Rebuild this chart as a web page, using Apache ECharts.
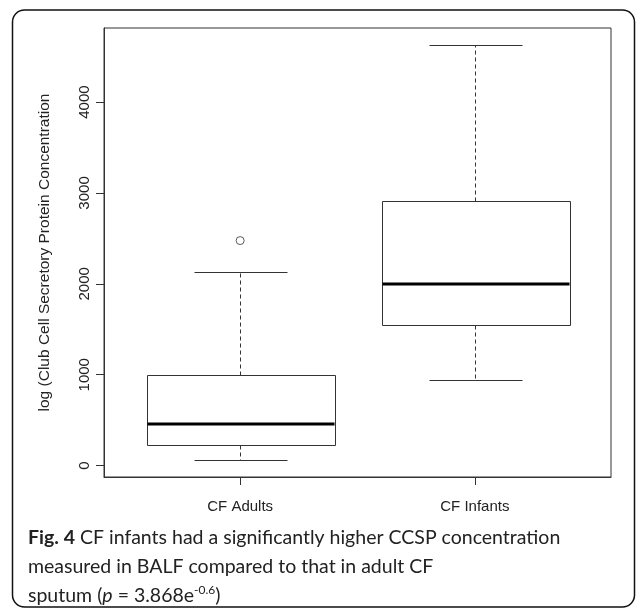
<!DOCTYPE html>
<html>
<head>
<meta charset="utf-8">
<script src="https://cdn.jsdelivr.net/npm/echarts@6/dist/echarts.min.js"></script>
<style>
html,body{margin:0;padding:0;background:#fff;}
#chart{width:637px;height:609px;}
</style>
</head>
<body>
<div id="chart"></div>
<script>
// ---- data ----
const categories = ['CF Adults', 'CF Infants'];
const positions = [1, 2];
const lowerWhisker = [58, 947];
const q1 = [230, 1551];
const median = [457, 1998];
const q3 = [1002, 2912];
const upperWhisker = [2125, 4632];
const outlierPos = [1];
const outlierVal = [2476];
const yTicks = [0, 1000, 2000, 3000, 4000];
const yTitle = 'log (Club Cell Secretory Protein Concentration';

const boxData = positions.map((p, i) => [p, lowerWhisker[i], q1[i], median[i], q3[i], upperWhisker[i]]);
const outlierData = outlierPos.map((p, i) => [p, outlierVal[i]]);

// R-style axis extents (4% padding)
const allVals = lowerWhisker.concat(upperWhisker, outlierVal);
const dMin = Math.min.apply(null, allVals), dMax = Math.max.apply(null, allVals);
const pad = (dMax - dMin) * 0.04;

const FONT = '"Liberation Sans", Arial, sans-serif';
const CAP = 'Lato, sans-serif';
const chart = echarts.init(document.getElementById('chart'), null, {renderer: 'canvas'});

function renderBox(params, api) {
  const x = api.value(0);
  const lo = api.value(1), a = api.value(2), m = api.value(3), b = api.value(4), hi = api.value(5);
  const pLo = api.coord([x, lo]), pA = api.coord([x, a]), pM = api.coord([x, m]), pB = api.coord([x, b]), pHi = api.coord([x, hi]);
  const boxW = api.size([0.8, 0])[0];
  const capW = api.size([0.4, 0])[0];
  const cx = Math.round(pM[0]) + 0.5;
  const stroke = '#333';
  const lineStyle = {stroke: stroke, lineWidth: 1, fill: null};
  const dashStyle = {stroke: stroke, lineWidth: 1, lineDash: [4, 3], fill: null};
  const r = v => Math.round(v) + 0.5;
  return {
    type: 'group',
    children: [
      {type: 'line', shape: {x1: cx, y1: r(pB[1]), x2: cx, y2: r(pHi[1])}, style: dashStyle},
      {type: 'line', shape: {x1: cx, y1: r(pA[1]), x2: cx, y2: r(pLo[1])}, style: dashStyle},
      {type: 'line', shape: {x1: r(cx - capW / 2), y1: r(pHi[1]), x2: r(cx + capW / 2), y2: r(pHi[1])}, style: lineStyle},
      {type: 'line', shape: {x1: r(cx - capW / 2), y1: r(pLo[1]), x2: r(cx + capW / 2), y2: r(pLo[1])}, style: lineStyle},
      {type: 'rect', shape: {x: r(cx - boxW / 2), y: r(pB[1]), width: Math.round(boxW), height: Math.round(pA[1] - pB[1])},
        style: {stroke: stroke, lineWidth: 1, fill: '#fff'}},
      {type: 'line', shape: {x1: r(cx - boxW / 2), y1: Math.round(pM[1]), x2: r(cx + boxW / 2), y2: Math.round(pM[1])},
        style: {stroke: '#000', lineWidth: 3}}
    ]
  };
}

const option = {
  backgroundColor: '#fff',
  animation: false,
  grid: {left: 104, right: 26, top: 28, bottom: 132, show: true, borderColor: '#333', borderWidth: 1, backgroundColor: 'transparent'},
  xAxis: {
    type: 'value', min: 0.42, max: 2.58,
    splitLine: {show: false},
    axisLine: {show: true, onZero: false, lineStyle: {color: '#333', width: 1}},
    axisTick: {show: true, customValues: positions, length: 8, inside: false, lineStyle: {color: '#333'}},
    axisLabel: {show: true, customValues: positions, margin: 22, color: '#222', fontFamily: FONT, fontSize: 15,
      formatter: v => categories[positions.indexOf(v)] || ''}
  },
  yAxis: {
    type: 'value', min: dMin - pad, max: dMax + pad,
    splitLine: {show: false},
    axisLine: {show: true, onZero: false, lineStyle: {color: '#333', width: 1}},
    axisTick: {show: true, customValues: yTicks, length: 8, lineStyle: {color: '#333'}},
    axisLabel: {show: true, customValues: yTicks, rotate: 90, margin: 12, color: '#222', fontFamily: FONT, fontSize: 15,
      formatter: v => String(v)},
    name: yTitle, nameLocation: 'middle', nameRotate: 90, nameGap: 51,
    nameTextStyle: {color: '#222', fontFamily: FONT, fontSize: 15.5}
  },
  series: [
    {type: 'custom', renderItem: renderBox, data: boxData, encode: {x: 0, y: [1, 2, 3, 4, 5]}, silent: true},
    {type: 'scatter', data: outlierData, symbol: 'circle', symbolSize: 8,
      itemStyle: {color: '#fff', borderColor: '#333', borderWidth: 1}, silent: true}
  ],
  graphic: [
    {type: 'rect', shape: {x: 12.5, y: 10, width: 622, height: 597, r: 12}, style: {fill: null, stroke: '#111', lineWidth: 1.5}, silent: true},
    {type: 'text', left: 28, top: 528, style: {
      text: '{b|Fig. 4} CF infants had a significantly higher CCSP concentration',
      font: '19.5px ' + CAP, fill: '#222',
      rich: {b: {fontWeight: 'bold', fontFamily: CAP, fontSize: 19.5, fill: '#222'}}
    }},
    {type: 'text', left: 28, top: 557, style: {
      text: 'measured in BALF compared to that in adult CF',
      font: '19.5px ' + CAP, fill: '#222'
    }},
    {type: 'text', left: 28, top: 584, style: {
      text: 'sputum ({i|p} = 3.868e{s|-0.6})',
      font: '19.5px ' + CAP, fill: '#222', lineHeight: 24,
      rich: {
        i: {fontStyle: 'italic', fontFamily: CAP, fontSize: 19.5, fill: '#222', lineHeight: 24},
        s: {fontFamily: CAP, fontSize: 12, fill: '#222', verticalAlign: 'top', lineHeight: 14}
      }
    }}
  ]
};
chart.setOption(option);
</script>
</body>
</html>
